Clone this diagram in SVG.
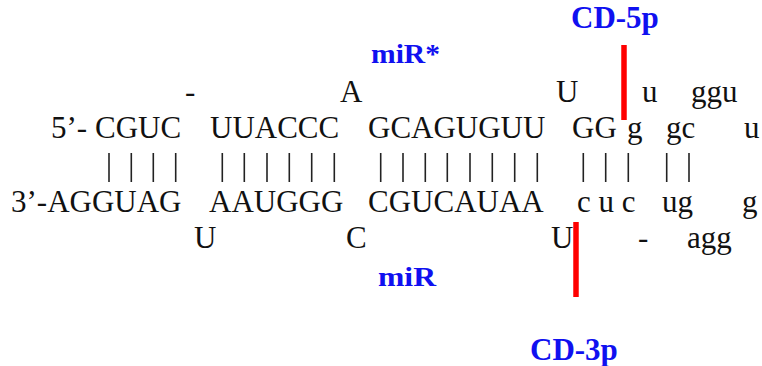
<svg xmlns="http://www.w3.org/2000/svg" width="762" height="366" viewBox="0 0 762 366">
  <style>
    .seq { font-family: "Liberation Serif", "Times New Roman", serif; font-size: 31px; fill: #111; }
    .lbl { font-family: "Liberation Serif", "Times New Roman", serif; font-weight: bold; fill: #1010f0; }
    .pair { stroke: #222; stroke-width: 1.6; }
    .cut { stroke: #ff0000; stroke-width: 5.5; }
  </style>
  <rect width="762" height="366" fill="#ffffff"/>

  <!-- arm labels -->
  <g id="labels">
    <text class="lbl" x="571" y="28" font-size="31">CD-5p</text>
    <text class="lbl" x="371" y="63" font-size="28" textLength="69" lengthAdjust="spacingAndGlyphs">miR*</text>
    <text class="lbl" x="378" y="286" font-size="28" textLength="58" lengthAdjust="spacingAndGlyphs">miR</text>
    <text class="lbl" x="530" y="360" font-size="31">CD-3p</text>
  </g>

  <!-- 5' strand bulges / loop (upper) -->
  <g id="top-unpaired" class="seq">
    <text x="185" y="102">-</text>
    <text x="340" y="102">A</text>
    <text x="556" y="102">U</text>
    <text x="642" y="102">u</text>
    <text x="691" y="102">ggu</text>
  </g>

  <!-- 5' strand -->
  <g id="strand-5p" class="seq">
    <text x="51" y="138">5’-</text>
    <text x="95" y="138">CGUC</text>
    <text x="210" y="138">UUACCC</text>
    <text x="368" y="138">GCAGUGUU</text>
    <text x="572" y="138">GG</text>
    <text x="627" y="138">g</text>
    <text x="666" y="138">gc</text>
    <text x="744" y="138">u</text>
  </g>

  <!-- base-pair marks -->
  <g id="pairs" class="pair">
    <line x1="109" y1="153" x2="109" y2="182"/>
    <line x1="131.3" y1="153" x2="131.3" y2="182"/>
    <line x1="153.3" y1="153" x2="153.3" y2="182"/>
    <line x1="175.7" y1="153" x2="175.7" y2="182"/>
    <line x1="222.3" y1="153" x2="222.3" y2="182"/>
    <line x1="244.3" y1="153" x2="244.3" y2="182"/>
    <line x1="267" y1="153" x2="267" y2="182"/>
    <line x1="289.3" y1="153" x2="289.3" y2="182"/>
    <line x1="311.7" y1="153" x2="311.7" y2="182"/>
    <line x1="334.3" y1="153" x2="334.3" y2="182"/>
    <line x1="380.7" y1="153" x2="380.7" y2="182"/>
    <line x1="403" y1="153" x2="403" y2="182"/>
    <line x1="425.3" y1="153" x2="425.3" y2="182"/>
    <line x1="447.3" y1="153" x2="447.3" y2="182"/>
    <line x1="470" y1="153" x2="470" y2="182"/>
    <line x1="492.3" y1="153" x2="492.3" y2="182"/>
    <line x1="514.7" y1="153" x2="514.7" y2="182"/>
    <line x1="537.3" y1="153" x2="537.3" y2="182"/>
    <line x1="583.3" y1="153" x2="583.3" y2="182"/>
    <line x1="605.7" y1="153" x2="605.7" y2="182"/>
    <line x1="628.3" y1="153" x2="628.3" y2="182"/>
    <line x1="666.7" y1="153" x2="666.7" y2="182"/>
    <line x1="689" y1="153" x2="689" y2="182"/>
  </g>

  <!-- 3' strand -->
  <g id="strand-3p" class="seq">
    <text x="11" y="212">3’-AGGUAG</text>
    <text x="209" y="212">AAUGGG</text>
    <text x="368" y="212">CGUCAUAA</text>
    <text x="577" y="212">c u c</text>
    <text x="662" y="212">ug</text>
    <text x="742" y="212">g</text>
  </g>

  <!-- 3' strand bulges / loop (lower) -->
  <g id="bottom-unpaired" class="seq">
    <text x="194" y="248">U</text>
    <text x="346" y="248">C</text>
    <text x="551" y="248">U</text>
    <text x="638" y="248">-</text>
    <text x="687" y="248">agg</text>
  </g>

  <!-- cleavage sites -->
  <g id="cuts" class="cut">
    <line x1="624" y1="45" x2="624" y2="120"/>
    <line x1="576" y1="222" x2="576" y2="297"/>
  </g>
</svg>
